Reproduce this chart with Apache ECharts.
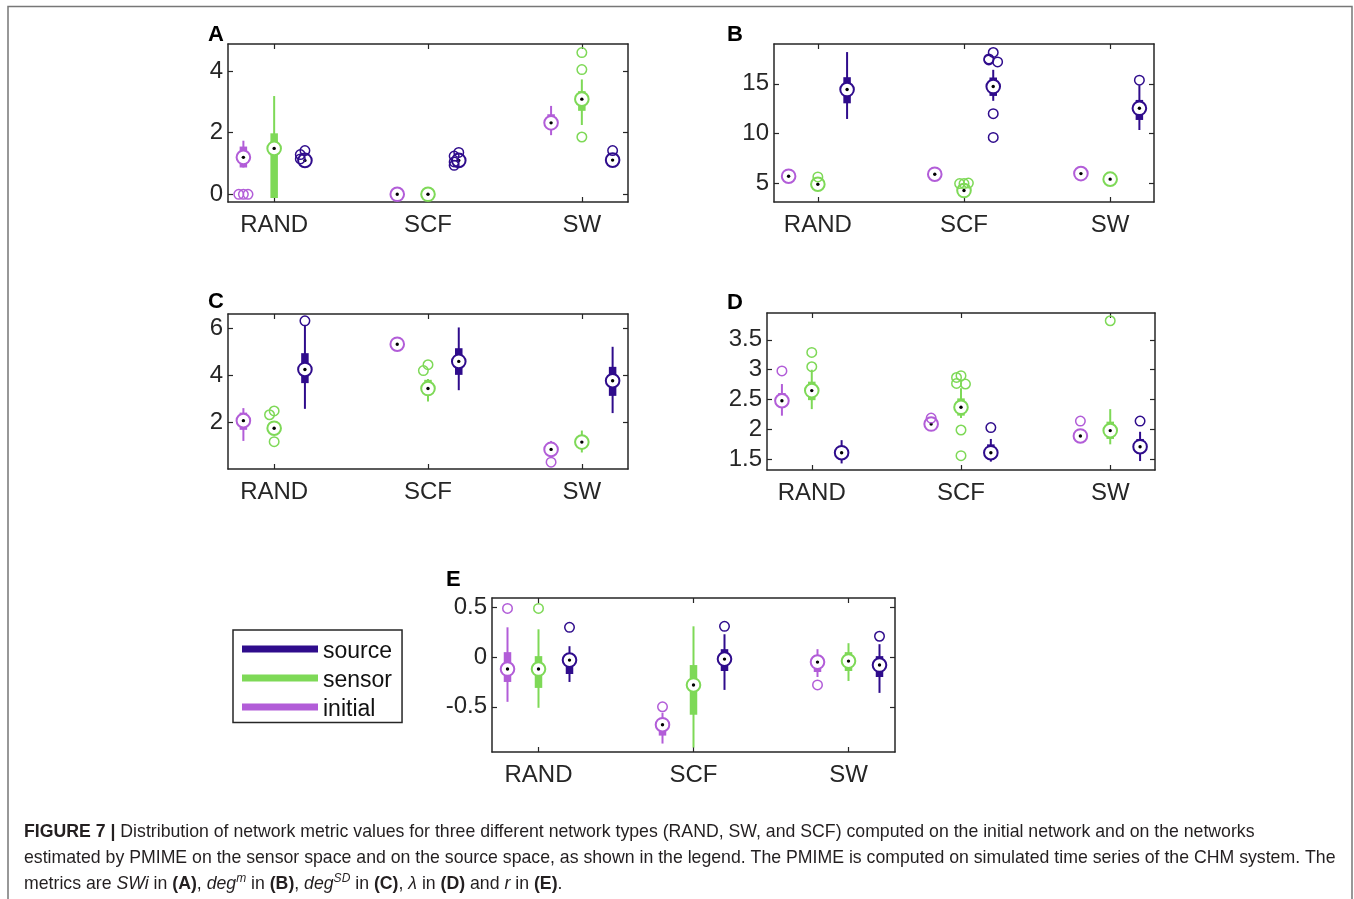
<!DOCTYPE html>
<html>
<head>
<meta charset="utf-8">
<script src="https://cdn.jsdelivr.net/npm/echarts@6/dist/echarts.min.js"></script>
<style>
html, body { margin: 0; padding: 0; background: #fff; }
#chart { width: 1354px; height: 899px; }
</style>
</head>
<body>
<div id="chart"></div>
<script>
const categories = ['RAND', 'SCF', 'SW'];
const groupNames = ['initial', 'sensor', 'source'];
const legendOrder = ['source', 'sensor', 'initial'];
const groupColors = { initial: '#B25DD8', sensor: '#7ED957', source: '#2F0C8C' };

// box stats per category: [lower whisker, q1, median, q3, upper whisker]
// (A) SWi
const swiInitial = [[0.87, 0.87, 1.2, 1.55, 1.74], [0, 0, 0, 0, 0], [1.92, 2.14, 2.32, 2.6, 2.87]];
const swiSensor = [[-0.12, -0.12, 1.49, 1.98, 3.19], [0, 0, 0, 0, 0], [2.25, 2.71, 3.09, 3.35, 3.73]];
const swiSource = [[1.08, 1.08, 1.1, 1.12, 1.12], [1.08, 1.08, 1.1, 1.12, 1.12], [1.09, 1.09, 1.11, 1.12, 1.12]];
const swiInitialOut = [[0, 0, 0], [], []];
const swiSensorOut = [[], [], [4.6, 4.05, 1.86]];
const swiSourceOut = [[1.42, 1.29, 1.15], [1.36, 1.24, 1.05, 0.94], [1.42]];

// (B) deg^m
const degmInitial = [[5.74, 5.74, 5.74, 5.74, 5.74], [5.94, 5.94, 5.94, 5.94, 5.94], [6.0, 6.0, 6.0, 6.0, 6.0]];
const degmSensor = [[4.85, 4.88, 4.93, 5.0, 5.05], [4.25, 4.28, 4.3, 4.35, 4.4], [5.4, 5.42, 5.44, 5.46, 5.5]];
const degmSource = [[11.48, 13.05, 14.43, 15.67, 18.19], [13.3, 13.79, 14.73, 15.64, 16.41], [10.37, 11.38, 12.55, 13.39, 14.87]];
const degmInitialOut = [[], [], []];
const degmSensorOut = [[5.67], [5.0, 5.0, 5.05], []];
const degmSourceOut = [[], [18.15, 17.5, 17.4, 17.2, 12.01, 9.63], [15.37]];

// (C) deg^SD
const degsdInitial = [[1.22, 1.69, 2.08, 2.42, 2.61], [5.32, 5.32, 5.32, 5.32, 5.32], [0.7, 0.75, 0.86, 1.0, 1.22]];
const degsdSensor = [[1.55, 1.6, 1.76, 1.95, 2.05], [2.89, 3.31, 3.44, 3.81, 3.85], [0.73, 0.95, 1.17, 1.35, 1.66]];
const degsdSource = [[2.58, 3.67, 4.25, 4.94, 6.1], [3.37, 4.02, 4.59, 5.15, 6.03], [2.4, 3.13, 3.77, 4.36, 5.21]];
const degsdInitialOut = [[], [], [0.32]];
const degsdSensorOut = [[2.49, 2.33, 1.19], [4.45, 4.2], []];
const degsdSourceOut = [[6.31], [], []];

// (D) lambda
const lambdaInitial = [[2.23, 2.4, 2.48, 2.61, 2.76], [2.05, 2.07, 2.09, 2.12, 2.14], [1.78, 1.82, 1.89, 1.95, 2.0]];
const lambdaSensor = [[2.34, 2.49, 2.65, 2.8, 3.0], [2.19, 2.23, 2.37, 2.52, 2.69], [1.75, 1.84, 1.98, 2.13, 2.34]];
const lambdaSource = [[1.43, 1.55, 1.61, 1.7, 1.82], [1.46, 1.55, 1.61, 1.75, 1.84], [1.47, 1.6, 1.71, 1.84, 1.96]];
const lambdaInitialOut = [[2.98], [2.19], [2.14]];
const lambdaSensorOut = [[3.29, 3.05], [2.9, 2.87, 2.77, 2.76, 1.99, 1.56], [3.82]];
const lambdaSourceOut = [[], [2.03], [2.14]];

// (E) r
const rInitial = [[-0.45, -0.25, -0.12, 0.05, 0.3], [-0.87, -0.79, -0.68, -0.62, -0.56], [-0.2, -0.15, -0.05, 0.02, 0.08]];
const rSensor = [[-0.51, -0.31, -0.12, 0.01, 0.28], [-0.91, -0.58, -0.28, -0.08, 0.31], [-0.24, -0.14, -0.04, 0.05, 0.14]];
const rSource = [[-0.25, -0.17, -0.03, 0.03, 0.11], [-0.33, -0.14, -0.02, 0.08, 0.23], [-0.36, -0.2, -0.08, 0.01, 0.13]];
const rInitialOut = [[0.49], [-0.5], [-0.28]];
const rSensorOut = [[0.49], [], []];
const rSourceOut = [[0.3], [0.31], [0.21]];

const FONT = '"Liberation Sans", Arial, Helvetica, sans-serif';
const AXIS_COLOR = '#262626';

const panels = [
  { label: 'A', lx: 208, ly: 35, grid: { left: 228, top: 44, width: 400, height: 158 },
    yMin: -0.25, yMax: 4.88, yTicks: [0, 2, 4],
    stats: { initial: swiInitial, sensor: swiSensor, source: swiSource },
    out: { initial: swiInitialOut, sensor: swiSensorOut, source: swiSourceOut } },
  { label: 'B', lx: 727, ly: 35, grid: { left: 774, top: 44, width: 380, height: 158 },
    yMin: 3.15, yMax: 19.0, yTicks: [5, 10, 15],
    stats: { initial: degmInitial, sensor: degmSensor, source: degmSource },
    out: { initial: degmInitialOut, sensor: degmSensorOut, source: degmSourceOut } },
  { label: 'C', lx: 208, ly: 302, grid: { left: 228, top: 314, width: 400, height: 155 },
    yMin: 0.03, yMax: 6.6, yTicks: [2, 4, 6],
    stats: { initial: degsdInitial, sensor: degsdSensor, source: degsdSource },
    out: { initial: degsdInitialOut, sensor: degsdSensorOut, source: degsdSourceOut } },
  { label: 'D', lx: 727, ly: 303, grid: { left: 767, top: 313, width: 388, height: 157 },
    yMin: 1.32, yMax: 3.95, yTicks: [1.5, 2, 2.5, 3, 3.5],
    stats: { initial: lambdaInitial, sensor: lambdaSensor, source: lambdaSource },
    out: { initial: lambdaInitialOut, sensor: lambdaSensorOut, source: lambdaSourceOut } },
  { label: 'E', lx: 446, ly: 580, grid: { left: 492, top: 598, width: 403, height: 154 },
    yMin: -0.955, yMax: 0.595, yTicks: [-0.5, 0, 0.5],
    stats: { initial: rInitial, sensor: rSensor, source: rSource },
    out: { initial: rInitialOut, sensor: rSensorOut, source: rSourceOut } }
];

function renderBox(params, api) {
  const x = api.value(0);
  const lo = api.coord([x, api.value(1)]);
  const q1 = api.coord([x, api.value(2)]);
  const md = api.coord([x, api.value(3)]);
  const q3 = api.coord([x, api.value(4)]);
  const hi = api.coord([x, api.value(5)]);
  const color = api.visual('color');
  return {
    type: 'group',
    children: [
      { type: 'line', shape: { x1: lo[0], y1: lo[1], x2: hi[0], y2: hi[1] }, style: { stroke: color, lineWidth: 2 } },
      { type: 'line', shape: { x1: q1[0], y1: q1[1], x2: q3[0], y2: q3[1] }, style: { stroke: color, lineWidth: 7.5 } },
      { type: 'circle', shape: { cx: md[0], cy: md[1], r: 6.8 }, style: { fill: '#fff', stroke: color, lineWidth: 2 } },
      { type: 'circle', shape: { cx: md[0], cy: md[1], r: 1.7 }, style: { fill: '#000' } }
    ]
  };
}

// small horizontal spread for outliers that would sit on top of each other
const spread = [0, -0.03, 0.03, -0.015, 0.015, 0];

const grids = [], xAxes = [], yAxes = [], series = [], graphics = [];

panels.forEach(function (p, i) {
  grids.push(Object.assign({ containLabel: false }, p.grid));
  const xBase = {
    gridIndex: i, type: 'value', min: 0.7, max: 3.3,
    splitLine: { show: false },
    axisLine: { show: true, onZero: false, lineStyle: { color: AXIS_COLOR, width: 1.5 } },
    axisTick: { show: true, inside: true, length: 5, customValues: [1, 2, 3], lineStyle: { color: AXIS_COLOR, width: 1.2 } }
  };
  xAxes.push(Object.assign({}, xBase, {
    position: 'bottom',
    axisLabel: { show: true, customValues: [1, 2, 3], margin: 11, fontSize: 24, color: AXIS_COLOR, fontFamily: FONT,
      formatter: function (v) { return categories[Math.round(v) - 1]; } }
  }));
  xAxes.push(Object.assign({}, xBase, { position: 'top', axisLabel: { show: false } }));
  const yBase = {
    gridIndex: i, type: 'value', min: p.yMin, max: p.yMax,
    splitLine: { show: false },
    axisLine: { show: true, onZero: false, lineStyle: { color: AXIS_COLOR, width: 1.5 } },
    axisTick: { show: true, inside: true, length: 5, customValues: p.yTicks, lineStyle: { color: AXIS_COLOR, width: 1.2 } }
  };
  yAxes.push(Object.assign({}, yBase, {
    position: 'left',
    axisLabel: { show: true, customValues: p.yTicks, margin: 5, fontSize: 24, color: AXIS_COLOR, fontFamily: FONT }
  }));
  yAxes.push(Object.assign({}, yBase, { position: 'right', axisLabel: { show: false } }));

  const range = p.yMax - p.yMin;
  groupNames.forEach(function (g, gi) {
    const off = (gi - 1) * 0.2;
    series.push({
      name: g, type: 'custom', xAxisIndex: 2 * i, yAxisIndex: 2 * i,
      itemStyle: { color: groupColors[g] },
      renderItem: renderBox,
      encode: { x: 0, y: [1, 2, 3, 4, 5] },
      data: p.stats[g].map(function (s, ci) { return [ci + 1 + off].concat(s); }),
      z: 2
    });
    const pts = [];
    p.out[g].forEach(function (vals, ci) {
      vals.forEach(function (v, k) {
        let near = 0;
        for (let j = 0; j < k; j++) {
          if (Math.abs(vals[j] - v) < range * 0.045) near++;
        }
        pts.push([ci + 1 + off + spread[near % spread.length], v]);
      });
    });
    series.push({
      name: g, type: 'scatter', xAxisIndex: 2 * i, yAxisIndex: 2 * i,
      symbol: 'circle', symbolSize: 9.5,
      itemStyle: { color: 'rgba(0,0,0,0)', borderColor: groupColors[g], borderWidth: 1.5, opacity: 1 },
      data: pts, z: 3
    });
  });

  graphics.push({
    type: 'text', x: p.lx, y: p.ly,
    style: { text: p.label, font: 'bold 22px ' + FONT, fill: '#000', verticalAlign: 'middle' }
  });
});

// outer frame
graphics.push({
  type: 'rect', shape: { x: 8, y: 6.5, width: 1344, height: 1000 },
  style: { fill: 'none', stroke: '#777', lineWidth: 1.5 }, z: -1
});

const CAP_SIZE = 17.7;
const capRich = {
  b: { fontWeight: 'bold', fontSize: CAP_SIZE, fontFamily: FONT, fill: '#231F20' },
  i: { fontStyle: 'italic', fontSize: CAP_SIZE, fontFamily: FONT, fill: '#231F20' },
  sup: { fontStyle: 'italic', fontSize: 12, fontFamily: FONT, fill: '#231F20', verticalAlign: 'top', lineHeight: 22 }
};
const captionLines = [
  '{b|FIGURE 7 |} Distribution of network metric values for three different network types (RAND, SW, and SCF) computed on the initial network and on the networks',
  'estimated by PMIME on the sensor space and on the source space, as shown in the legend. The PMIME is computed on simulated time series of the CHM system. The',
  'metrics are {i|SWi} in {b|(A)}, {i|deg}{sup|m} in {b|(B)}, {i|deg}{sup|SD} in {b|(C)}, {i|λ} in {b|(D)} and {i|r} in {b|(E)}.'
];
captionLines.forEach(function (t, k) {
  graphics.push({
    type: 'text', x: 24, y: 832 + k * 26,
    style: { text: t, font: CAP_SIZE + 'px ' + FONT, fill: '#231F20', verticalAlign: 'middle', rich: capRich }
  });
});

const chart = echarts.init(document.getElementById('chart'));
chart.setOption({
  animation: false,
  backgroundColor: '#fff',
  textStyle: { fontFamily: FONT },
  grid: grids,
  xAxis: xAxes,
  yAxis: yAxes,
  legend: {
    orient: 'vertical', left: 233, top: 630,
    itemWidth: 76, itemHeight: 7, itemGap: 0,
    padding: [4.5, 10, 1, 9],
    borderColor: AXIS_COLOR, borderWidth: 1.5,
    selectedMode: false,
    formatter: '{t|{name}}',
    textStyle: {
      fontSize: 23, color: '#111', fontFamily: FONT,
      rich: { t: { fontSize: 23, lineHeight: 24, padding: [6, 0, 0, 0], color: '#111', fontFamily: FONT } }
    },
    data: legendOrder.map(function (n) {
      return { name: n, icon: 'rect', itemStyle: { color: groupColors[n], borderWidth: 0 } };
    })
  },
  graphic: graphics,
  series: series
});
</script>
</body>
</html>
